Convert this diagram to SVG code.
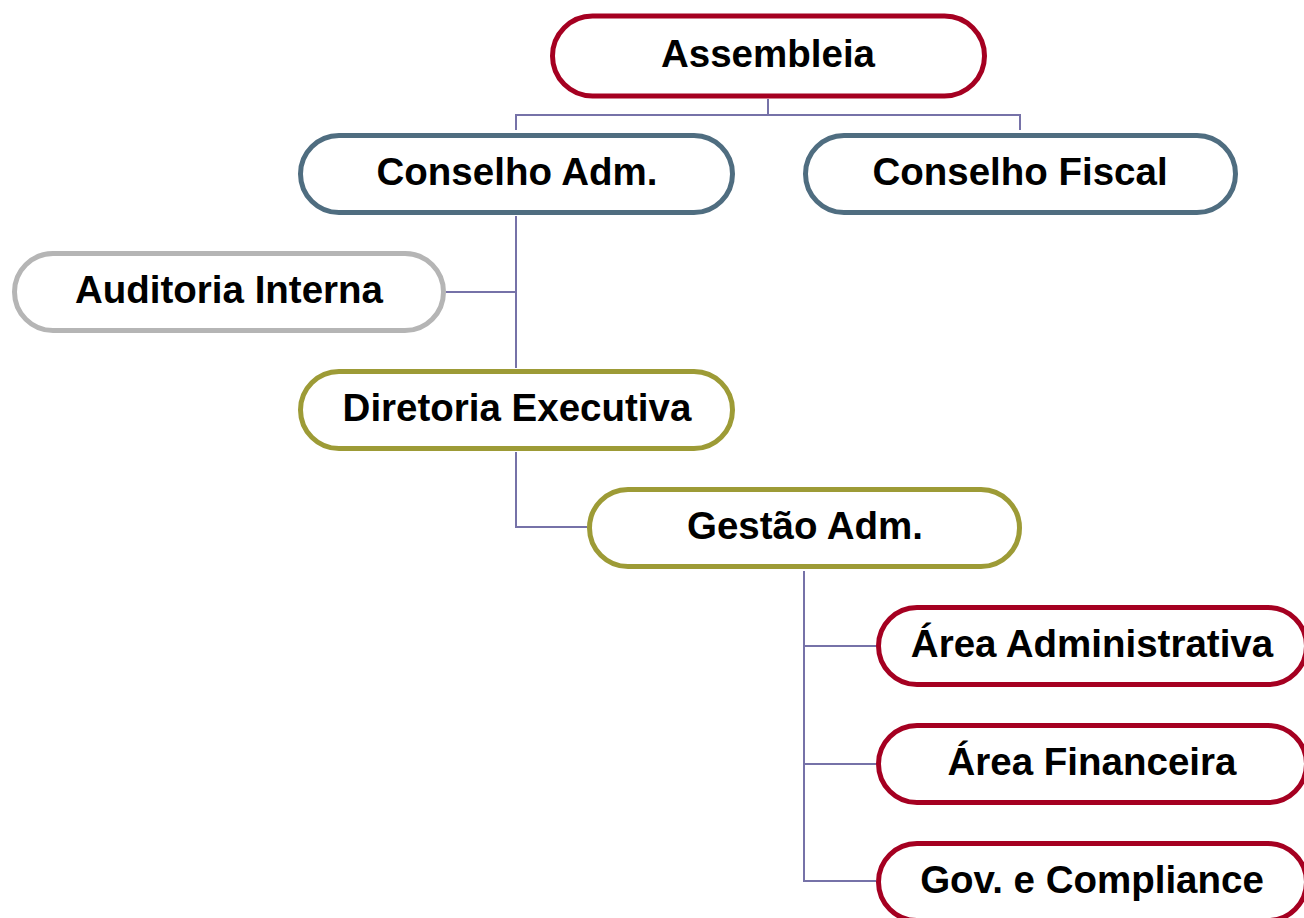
<svg xmlns="http://www.w3.org/2000/svg" width="1304" height="918" viewBox="0 0 1304 918">
<style>
.n{fill:#fff;stroke-width:5}
.red{stroke:#A50021}
.blue{stroke:#4F6D80}
.gray{stroke:#B5B5B5}
.olive{stroke:#9D9B36}
.t{font-family:"Liberation Sans",Arial,sans-serif;font-weight:bold;font-size:38.5px;fill:#000;text-anchor:middle}
.c{fill:none;stroke:#7672A8;stroke-width:2}
</style>
<rect width="1304" height="918" fill="#fff"/>
<g id="connectors">
<path class="c" d="M768,99 V115 M516,130 V115 H1020 V130"/>
<path class="c" d="M516,216 V368 M446,292 H516"/>
<path class="c" d="M516,452 V527 H587"/>
<path class="c" d="M804,571 V881 H876 M804,646 H876 M804,764 H876"/>
</g>
<g id="assembleia"><rect class="n red" x="552.5" y="16" width="432" height="80" rx="40"/><text class="t" x="768" y="67">Assembleia</text></g>
<g id="conselho-adm"><rect class="n blue" x="300.5" y="135.5" width="432" height="77" rx="38.5"/><text class="t" x="517" y="185">Conselho Adm.</text></g>
<g id="conselho-fiscal"><rect class="n blue" x="805.5" y="135.5" width="430" height="77" rx="38.5"/><text class="t" x="1020" y="185">Conselho Fiscal</text></g>
<g id="auditoria"><rect class="n gray" x="14.5" y="253.5" width="429" height="77" rx="38.5"/><text class="t" x="229" y="303">Auditoria Interna</text></g>
<g id="diretoria"><rect class="n olive" x="300.5" y="371.5" width="432" height="77" rx="38.5"/><text class="t" x="517" y="421">Diretoria Executiva</text></g>
<g id="gestao"><rect class="n olive" x="589.5" y="489.5" width="430" height="77" rx="38.5"/><text class="t" x="805" y="539">Gestão Adm.</text></g>
<g id="area-adm"><rect class="n red" x="878.5" y="607.5" width="428" height="77" rx="38.5"/><text class="t" x="1092" y="657">Área Administrativa</text></g>
<g id="area-fin"><rect class="n red" x="878.5" y="725.5" width="428" height="77" rx="38.5"/><text class="t" x="1092" y="775">Área Financeira</text></g>
<g id="gov"><rect class="n red" x="878.5" y="843.5" width="428" height="77" rx="38.5"/><text class="t" x="1092" y="893">Gov. e Compliance</text></g>
</svg>
